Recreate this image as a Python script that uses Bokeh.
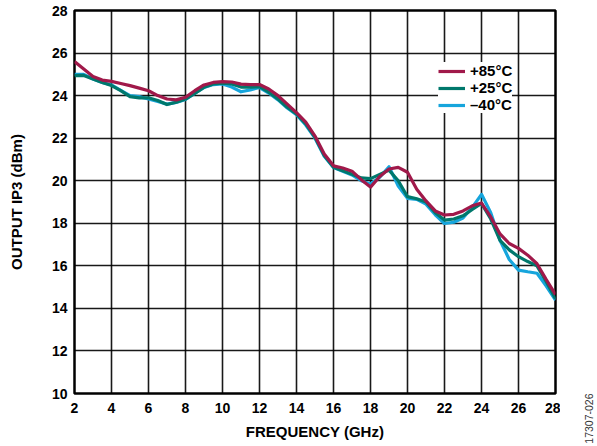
from math import pi
from bokeh.plotting import figure
from bokeh.layouts import row
from bokeh.models import Range1d, FixedTicker, Legend, LegendItem
from bokeh.embed import file_html
from bokeh.resources import INLINE

freq = [2.0, 2.5, 3.0, 3.5, 4.0, 4.5, 5.0, 5.5, 6.0, 6.5, 7.0, 7.5, 8.0, 8.5, 9.0, 9.5,
        10.0, 10.5, 11.0, 11.5, 12.0, 12.5, 13.0, 13.5, 14.0, 14.5, 15.0, 15.5, 16.0, 16.5,
        17.0, 17.5, 18.0, 18.5, 19.0, 19.5, 20.0, 20.5, 21.0, 21.5, 22.0, 22.5, 23.0, 23.5,
        24.0, 24.5, 25.0, 25.5, 26.0, 26.5, 27.0, 27.5, 28.0]

ip3_p85 = [25.60, 25.25, 24.90, 24.73, 24.67, 24.57, 24.47, 24.35, 24.23, 24.00, 23.84, 23.80,
           23.92, 24.23, 24.50, 24.62, 24.66, 24.64, 24.54, 24.52, 24.52, 24.31, 24.00, 23.60,
           23.20, 22.75, 22.10, 21.26, 20.70, 20.60, 20.45, 20.05, 19.70, 20.20, 20.55, 20.63,
           20.40, 19.60, 19.05, 18.58, 18.39, 18.42, 18.58, 18.82, 18.95, 18.30, 17.50, 17.05,
           16.82, 16.50, 16.10, 15.35, 14.65]

ip3_p25 = [24.94, 24.95, 24.78, 24.62, 24.47, 24.23, 23.95, 23.89, 23.90, 23.77, 23.58, 23.69,
           23.84, 24.10, 24.39, 24.55, 24.59, 24.55, 24.40, 24.40, 24.42, 24.16, 23.84, 23.45,
           23.14, 22.67, 22.04, 21.18, 20.63, 20.47, 20.30, 20.13, 20.10, 20.30, 20.50, 20.00,
           19.25, 19.15, 19.00, 18.50, 18.15, 18.20, 18.35, 18.65, 18.93, 18.20, 17.20, 16.75,
           16.43, 16.20, 16.00, 15.25, 14.45]

ip3_m40 = [25.00, 25.00, 24.78, 24.62, 24.50, 24.25, 24.00, 23.95, 23.84, 23.72, 23.60, 23.68,
           23.82, 24.10, 24.38, 24.52, 24.55, 24.40, 24.18, 24.27, 24.38, 24.12, 23.80, 23.42,
           23.10, 22.62, 22.00, 21.15, 20.62, 20.45, 20.27, 20.00, 19.85, 20.16, 20.66, 19.75,
           19.17, 19.12, 18.90, 18.40, 17.99, 18.05, 18.25, 18.75, 19.36, 18.50, 17.20, 16.30,
           15.80, 15.72, 15.65, 15.05, 14.39]

x_ticks = [2, 4, 6, 8, 10, 12, 14, 16, 18, 20, 22, 24, 26, 28]
y_ticks = [10, 12, 14, 16, 18, 20, 22, 24, 26, 28]
labels = ["+85°C", "+25°C", "\u201340°C"]
colors = ["#A0194A", "#00786C", "#16A5DC"]
figure_code = "17307-026"

FONT = "Liberation Sans"

p = figure(width=560, height=446, output_backend="svg", toolbar_location=None,
           x_range=Range1d(2, 28), y_range=Range1d(10, 28),
           min_border_left=74, min_border_right=5, min_border_top=10, min_border_bottom=53)
p.background_fill_color = "white"
p.border_fill_color = "white"
p.outline_line_color = "black"
p.outline_line_width = 2.5

p.xaxis.ticker = FixedTicker(ticks=x_ticks)
p.yaxis.ticker = FixedTicker(ticks=y_ticks)
for ax in (p.xaxis[0], p.yaxis[0]):
    ax.axis_line_color = None
    ax.major_tick_line_color = None
    ax.minor_tick_line_color = None
    ax.major_tick_out = 0
    ax.major_tick_in = 0
    ax.major_label_text_font = FONT
    ax.major_label_text_font_style = "bold"
    ax.major_label_text_font_size = "14px"
    ax.major_label_text_color = "black"
    ax.axis_label_text_font = FONT
    ax.axis_label_text_font_style = "bold"
    ax.axis_label_text_font_size = "15px"
    ax.axis_label_text_color = "black"

p.xaxis.axis_label = "FREQUENCY (GHz)"
p.yaxis.axis_label = "OUTPUT IP3 (dBm)"
p.xaxis.major_label_standoff = 9
p.xaxis.axis_label_standoff = 7
p.yaxis.major_label_standoff = 7
p.yaxis.axis_label_standoff = 24

p.xgrid.grid_line_color = "black"
p.ygrid.grid_line_color = "black"
p.xgrid.grid_line_width = 1.6
p.ygrid.grid_line_width = 1.6
p.xgrid.grid_line_alpha = 0.9
p.ygrid.grid_line_alpha = 0.9

r_m40 = p.line(freq, ip3_m40, line_color=colors[2], line_width=3.2, line_join="round")
r_p25 = p.line(freq, ip3_p25, line_color=colors[1], line_width=3.2, line_join="round")
r_p85 = p.line(freq, ip3_p85, line_color=colors[0], line_width=3.2, line_join="round")

legend = Legend(items=[LegendItem(label=labels[0], renderers=[r_p85]),
                       LegendItem(label=labels[1], renderers=[r_p25]),
                       LegendItem(label=labels[2], renderers=[r_m40])],
                location=(364, 280))
legend.background_fill_color = "white"
legend.background_fill_alpha = 1.0
legend.border_line_color = None
legend.padding = 4
legend.margin = 0
legend.spacing = 0
legend.glyph_width = 27
legend.glyph_height = 16
legend.label_height = 16
legend.label_standoff = 5
legend.label_text_font = FONT
legend.label_text_font_style = "bold"
legend.label_text_font_size = "15px"
legend.label_text_color = "black"
p.add_layout(legend)

# narrow side panel: its bottom axis carries the rotated figure code
side = figure(width=37, height=446, output_backend="svg", toolbar_location=None,
              x_range=Range1d(0, 37), y_range=Range1d(0, 1),
              y_axis_location=None,
              min_border=0, min_border_left=0, min_border_right=0,
              min_border_top=10, min_border_bottom=53)
side.grid.visible = False
side.outline_line_color = None
side.background_fill_color = "white"
side.border_fill_color = "white"
sax = side.xaxis[0]
sax.ticker = FixedTicker(ticks=[28])
sax.major_label_overrides = {28: figure_code}
sax.major_label_orientation = pi / 2
sax.axis_line_color = None
sax.major_tick_line_color = None
sax.minor_tick_line_color = None
sax.major_tick_out = 0
sax.major_tick_in = 0
sax.major_label_standoff = 0
sax.major_label_text_font = FONT
sax.major_label_text_font_size = "10.5px"
sax.major_label_text_color = "#333333"

layout = row(p, side, spacing=0)
open("out.html", "w").write(file_html(layout, INLINE))
